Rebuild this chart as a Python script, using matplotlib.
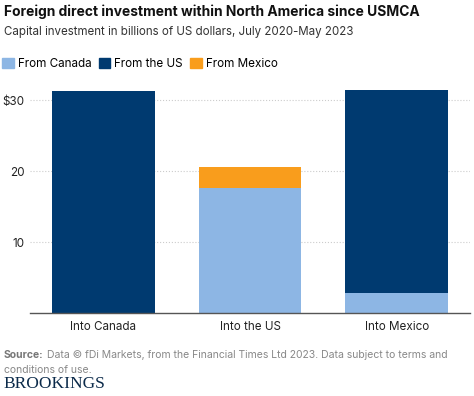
import matplotlib.pyplot as plt
from matplotlib.patches import Patch

plt.rcParams['font.family'] = ['Inter', 'DejaVu Sans']

categories = ['Into Canada', 'Into the US', 'Into Mexico']
from_canada = [0, 17.6, 2.8]
from_us = [31.3, 0, 28.6]
from_mexico = [0, 2.9, 0]

c_canada = '#8DB6E4'
c_us = '#003A70'
c_mexico = '#F99D1C'

fig = plt.figure(figsize=(4.74, 3.96), dpi=100)
ax = fig.add_axes([30/474, 1 - 313/396, 440/474, (313 - 88)/396])

x = range(len(categories))
w = 0.70
ax.bar(x, from_canada, w, color=c_canada, zorder=2)
ax.bar(x, from_us, w, bottom=from_canada, color=c_us, zorder=2)
bottom2 = [a + b for a, b in zip(from_canada, from_us)]
ax.bar(x, from_mexico, w, bottom=bottom2, color=c_mexico, zorder=2)

ax.set_xlim(-0.5, 2.5)
ax.set_ylim(0, (313 - 88) / 7.1)
ax.set_yticks([10, 20, 30])
ax.set_yticklabels(['10', '20', '$30'])
ax.set_xticks(list(x))
ax.set_xticklabels(categories)
ax.tick_params(axis='both', length=0, labelsize=8.4, colors='#222222')
ax.tick_params(axis='x', pad=6)
ax.tick_params(axis='y', pad=4)
ax.yaxis.grid(True, color='#cccccc', linestyle=':', linewidth=0.8)
for s in ['top', 'right', 'left']:
    ax.spines[s].set_visible(False)
ax.spines['bottom'].set_color('#555555')
ax.spines['bottom'].set_linewidth(1.0)
ax.spines['bottom'].set_zorder(3)

fig.text(4/474, 1 - 12/396, 'Foreign direct investment within North America since USMCA',
         fontsize=9.95, fontweight='bold', va='center', ha='left', color='#111111')
fig.text(4/474, 1 - 32/396, 'Capital investment in billions of US dollars, July 2020-May 2023',
         fontsize=8.3, va='center', ha='left', color='#333333')

handles = [Patch(color=c_canada), Patch(color=c_us), Patch(color=c_mexico)]
fig.legend(handles, ['From Canada', 'From the US', 'From Mexico'],
           loc='center left', bbox_to_anchor=(0, 1 - 64/396), ncol=3, frameon=False,
           fontsize=8.4, handlelength=1.0, handleheight=1.0, handletextpad=0.35,
           columnspacing=0.6, borderaxespad=0, borderpad=0.2)

src = fig.text(4/474, 1 - 355/396, 'Source:', fontsize=7.5, fontweight='bold',
               va='center', ha='left', color='#777777')
fig.canvas.draw()
bb = src.get_window_extent()
fig.text((bb.x1 + 3) / 474, 1 - 355/396,
         'Data \u00a9 fDi Markets, from the Financial Times Ltd 2023. Data subject to terms and',
         fontsize=7.5, va='center', ha='left', color='#888888')
fig.text(4/474, 1 - 370/396, 'conditions of use.',
         fontsize=7.5, va='center', ha='left', color='#888888')
fig.text(3/474, 1 - 384/396, 'BROOKINGS', family='Liberation Serif',
         fontsize=12.5, va='center', ha='left', color='#0B2A4A')

fig.savefig('out.png', dpi=100)
